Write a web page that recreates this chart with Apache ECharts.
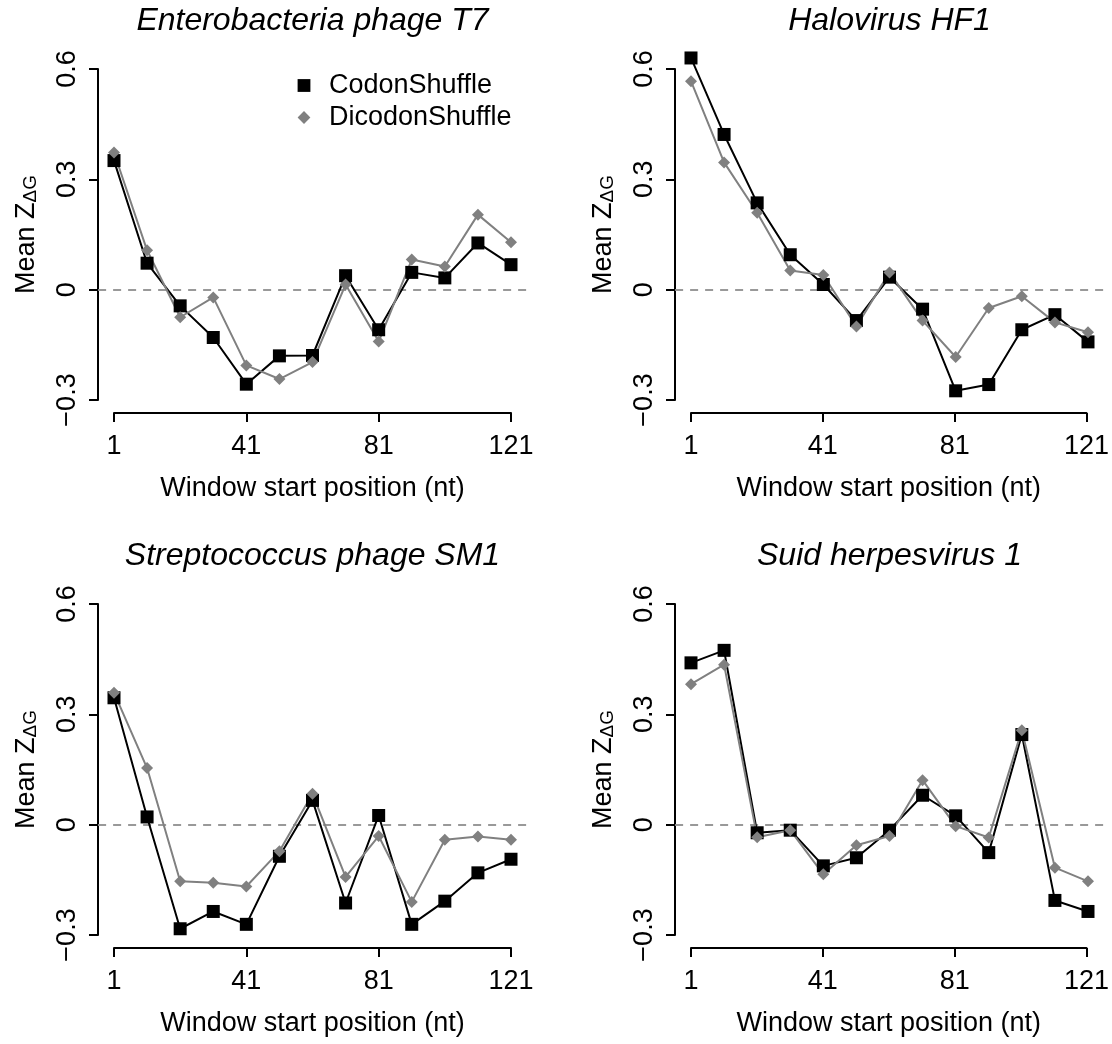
<!DOCTYPE html>
<html>
<head>
<meta charset="utf-8">
<script src="https://cdn.jsdelivr.net/npm/echarts@6/dist/echarts.min.js"></script>
<style>
body { margin: 0; background: #fff; }
#main { width: 1112px; height: 1044px; }
</style>
</head>
<body>
<div id="main"></div>
<script>
// window start positions (nt)
var positions = [1, 11, 21, 31, 41, 51, 61, 71, 81, 91, 101, 111, 121];
var seriesNames = ['CodonShuffle', 'DicodonShuffle'];
var titles = ['Enterobacteria phage T7', 'Halovirus HF1', 'Streptococcus phage SM1', 'Suid herpesvirus 1'];

// mean Z(dG)
var t7Codon = [0.351, 0.072, -0.044, -0.130, -0.257, -0.180, -0.179, 0.038, -0.109, 0.047, 0.032, 0.127, 0.068];
var t7Dicodon = [0.373, 0.107, -0.075, -0.021, -0.206, -0.243, -0.197, 0.014, -0.141, 0.082, 0.063, 0.204, 0.129];
var hf1Codon = [0.630, 0.422, 0.236, 0.095, 0.014, -0.084, 0.034, -0.053, -0.275, -0.258, -0.109, -0.068, -0.142];
var hf1Dicodon = [0.567, 0.346, 0.209, 0.052, 0.040, -0.100, 0.047, -0.084, -0.183, -0.050, -0.018, -0.089, -0.116];
var sm1Codon = [0.345, 0.021, -0.283, -0.236, -0.271, -0.086, 0.066, -0.213, 0.025, -0.271, -0.208, -0.131, -0.094];
var sm1Dicodon = [0.359, 0.154, -0.154, -0.158, -0.168, -0.072, 0.084, -0.142, -0.031, -0.210, -0.041, -0.032, -0.041];
var suidCodon = [0.440, 0.474, -0.022, -0.015, -0.112, -0.090, -0.015, 0.080, 0.024, -0.076, 0.245, -0.206, -0.236];
var suidDicodon = [0.382, 0.435, -0.034, -0.015, -0.135, -0.056, -0.031, 0.121, -0.004, -0.035, 0.257, -0.117, -0.154];

var panels = [[t7Codon, t7Dicodon], [hf1Codon, hf1Dicodon], [sm1Codon, sm1Dicodon], [suidCodon, suidDicodon]];

var FONT = '"Liberation Sans", Arial, Helvetica, sans-serif';
var colLeft = [114, 691];
var rowTop = [69, 604];
var plotW = 397;
var plotH = 331;
var pad = 0.04; // R style 4% axis extension

function pairs(values) {
    var out = [];
    for (var i = 0; i < values.length; i++) out.push([positions[i], values[i]]);
    return out;
}

function yLabel(v) {
    var r = Math.round(v * 10) / 10;
    if (r < 0) return '\u2212' + Math.abs(r);
    return String(r);
}

function buildOption() {
    var grids = [], xAxes = [], yAxes = [], series = [], titleList = [];
    for (var p = 0; p < panels.length; p++) {
        var left = colLeft[p % 2];
        var top = rowTop[Math.floor(p / 2)];
        var ai = 2 * p;      // grid holding the visible axes
        var di = 2 * p + 1;  // grid holding the data, full plot region
        grids.push({left: left, top: top, width: plotW, height: plotH});
        grids.push({left: left - plotW * pad, top: top - plotH * pad, width: plotW * (1 + 2 * pad), height: plotH * (1 + 2 * pad)});

        xAxes.push({
            type: 'value', gridIndex: ai, min: 1, max: 121, interval: 40, offset: 13,
            axisLine: {show: true, onZero: false, lineStyle: {color: '#000', width: 2}},
            axisTick: {show: true, length: 9, lineStyle: {color: '#000', width: 2}},
            axisLabel: {fontSize: 27, fontFamily: FONT, color: '#000', margin: 20},
            splitLine: {show: false},
            name: 'Window start position (nt)', nameLocation: 'middle', nameGap: 62,
            nameTextStyle: {fontSize: 27, fontFamily: FONT, color: '#000'}
        });
        xAxes.push({type: 'value', gridIndex: di, min: 1 - 120 * pad, max: 121 + 120 * pad, show: false});

        yAxes.push({
            type: 'value', gridIndex: ai, min: -0.3, max: 0.6, interval: 0.3, offset: 16,
            axisLine: {show: true, onZero: false, lineStyle: {color: '#000', width: 2}},
            axisTick: {show: true, length: 9, lineStyle: {color: '#000', width: 2}},
            axisLabel: {fontSize: 27, fontFamily: FONT, color: '#000', rotate: 90, margin: 17, formatter: yLabel},
            splitLine: {show: false},
            name: '{a|Mean Z}{b|\u0394G}', nameLocation: 'middle', nameGap: 58,
            nameTextStyle: {
                fontSize: 27, fontFamily: FONT, color: '#000',
                rich: {
                    a: {fontSize: 27, fontFamily: FONT, color: '#000', lineHeight: 27},
                    b: {fontSize: 19, fontFamily: FONT, color: '#000', lineHeight: 14, verticalAlign: 'bottom'}
                }
            }
        });
        yAxes.push({type: 'value', gridIndex: di, min: -0.3 - 0.9 * pad, max: 0.6 + 0.9 * pad, show: false});

        titleList.push({
            text: titles[p], left: left + plotW / 2, top: top - 64, textAlign: 'center', padding: 0,
            textStyle: {fontSize: 32, fontStyle: 'italic', fontWeight: 'normal', fontFamily: FONT, color: '#000'}
        });

        series.push({
            type: 'line', name: seriesNames[0], xAxisIndex: di, yAxisIndex: di,
            data: pairs(panels[p][0]), clip: false,
            symbol: 'rect', symbolSize: 13,
            itemStyle: {color: '#000'}, lineStyle: {color: '#000', width: 2},
            markLine: {
                silent: true, symbol: 'none', z: 1, label: {show: false},
                lineStyle: {color: '#999', width: 2, type: [8, 7]},
                data: [{yAxis: 0}]
            }
        });
        series.push({
            type: 'line', name: seriesNames[1], xAxisIndex: di, yAxisIndex: di,
            data: pairs(panels[p][1]), clip: false,
            symbol: 'diamond', symbolSize: 12,
            itemStyle: {color: '#808080'}, lineStyle: {color: '#808080', width: 2}
        });
    }
    return {
        animation: false,
        title: titleList,
        legend: {
            data: seriesNames.slice(), orient: 'vertical', left: 284, top: 72, padding: 0,
            itemWidth: 40, itemHeight: 16, itemGap: 5,
            lineStyle: {width: 0, opacity: 0},
            textStyle: {fontSize: 27, fontFamily: FONT, color: '#000'},
            selectedMode: false
        },
        grid: grids,
        xAxis: xAxes,
        yAxis: yAxes,
        series: series
    };
}

var chart = echarts.init(document.getElementById('main'));
chart.setOption(buildOption());
</script>
</body>
</html>
